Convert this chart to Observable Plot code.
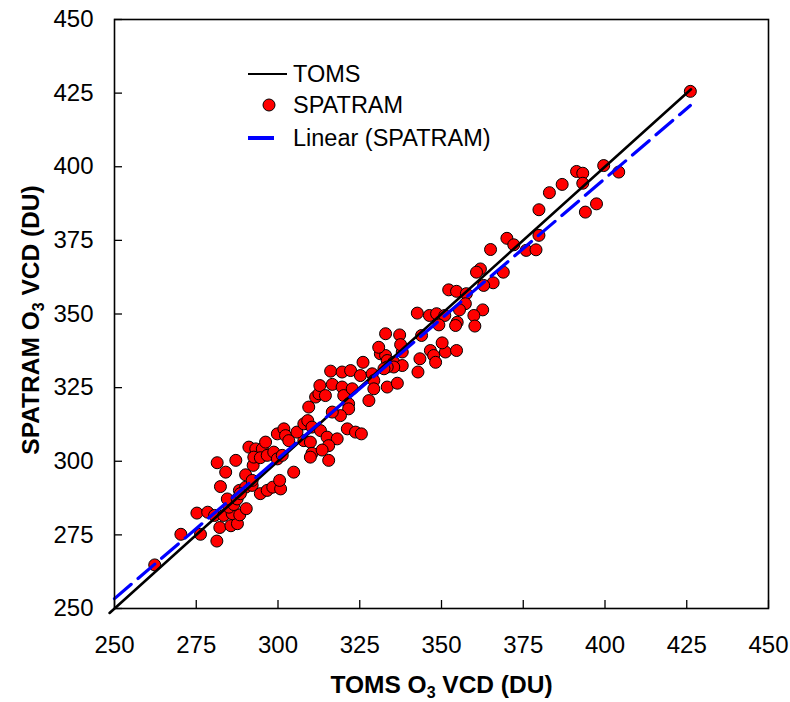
<!DOCTYPE html>
<html>
<head>
<meta charset="utf-8">
<script src="https://cdn.jsdelivr.net/npm/d3@7"></script>
<script src="https://cdn.jsdelivr.net/npm/@observablehq/plot@0.6"></script>
<style>
  html, body { margin: 0; padding: 0; background: #fff; }
  #wrap { position: relative; width: 790px; height: 702px; font-family: "Liberation Sans", Arial, sans-serif; }
  #legend { position: absolute; left: 240px; top: 55px; }
</style>
</head>
<body>
<div id="wrap"></div>
<script>
// ---- Data ----
const toms = [
  262.3,270.3,276.3,281.3,275.2,278.5,280.6,282.2,285.6,287.6,
  283.4,286.0,288.3,290.3,285.0,286.5,284.5,287.5,282.4,281.4,
  284.0,287.1,288.2,290.1,288.5,292.1,294.6,296.7,298.4,300.8,
  300.5,290.1,292.1,292.4,291.1,293.2,295.2,296.2,292.6,294.6,
  296.7,298.7,299.8,301.3,299.8,301.8,302.3,303.3,304.8,
  307.9,309.9,305.8,
  307.9,309.1,309.4,310.4,310.4,309.9,313.0,315.0,318.1,321.2,
  323.7,325.5,315.5,313.5,315.5,311.5,312.5,312.8,314.5,316.6,
  316.1,319.6,322.2,326.0,325.2,328.8,329.3,329.3,327.8,319.6,
  320.1,322.7,321.6,321.6,319.1,316.6,333.4,336.5,342.8,
  338.0,331.3,332.9,333.4,335.4,338.0,335.4,333.4,332.4,343.4,
  346.6,347.6,348.2,351.2,354.6,330.8,
  399.6,404.2,391.3,393.2,393.2,386.9,383.0,397.4,394.0,379.8,
  379.8,370.0,372.1,375.9,378.9,365.0,361.9,360.7,368.9,365.8,
  362.9,352.2,354.6,357.6,357.3,355.5,362.6,359.9,360.2,354.8,
  354.3,342.6,346.3,348.5,351.0,349.2,343.9,332.9,337.2,337.5,
  350.2,
  426.1
];
const spatram = [
  264.8,275.2,275.2,272.9,282.4,282.7,281.6,277.5,278.1,278.8,
  281.6,282.2,281.8,283.9,284.4,285.3,287.2,287.2,291.4,299.5,
  296.3,300.3,290.1,291.2,289.0,291.8,289.0,290.1,291.2,290.6,
  293.5,295.4,293.5,298.6,304.8,304.2,304.2,306.5,301.4,301.2,
  302.0,303.1,300.8,302.0,309.3,311.0,308.7,307.0,296.3,
  307.0,306.5,309.9,
  312.7,313.8,318.4,311.6,302.7,301.4,310.4,308.2,307.6,311.0,
  309.9,309.3,305.3,303.8,300.3,321.8,322.9,325.7,322.3,326.1,
  330.6,330.3,330.8,333.6,329.1,329.7,327.4,324.6,320.6,325.2,
  322.3,324.6,319.5,317.8,315.5,316.7,325.2,326.5,330.3,
  337.1,336.5,335.9,334.2,333.6,332.5,332.0,332.0,331.4,334.8,
  337.6,335.9,333.6,337.1,337.6,338.7,
  400.4,398.2,398.4,397.8,394.4,394.0,391.2,387.4,384.6,385.4,
  376.7,375.7,373.5,371.6,371.8,371.9,365.3,364.2,364.2,360.6,
  359.7,358.2,357.7,356.9,353.5,351.4,351.4,349.5,345.9,347.2,
  346.1,350.3,349.5,350.1,349.5,346.3,342.7,343.3,342.9,339.6,
  340.2,
  425.6
];
// 1:1 TOMS reference line extent and Excel linear trendline
const tomsLineX = [248.5, 426.3];
const fitSlope = 0.951;
const fitIntercept = 15.6;
const fitRangeX = [250, 426.1];
const axisTicks = [250, 275, 300, 325, 350, 375, 400, 425, 450];
const xTitle = "TOMS O3 VCD (DU)";
const yTitle = "SPATRAM O3 VCD (DU)";
const legendLabels = ["TOMS", "SPATRAM", "Linear (SPATRAM)"];

// ---- Derived tables ----
const points = toms.map((t, i) => ({toms: t, spatram: spatram[i]}));
const oneToOne = tomsLineX.map(v => ({x: v, y: v}));
const fitLine = fitRangeX.map(v => ({x: v, y: fitSlope * v + fitIntercept}));

const chart = Plot.plot({
  width: 790,
  height: 702,
  marginLeft: 114,
  marginRight: 22,
  marginTop: 19,
  marginBottom: 94,
  style: {fontFamily: "'Liberation Sans', Arial, sans-serif", fontSize: "24px", color: "#000", background: "#fff"},
  x: {domain: [250, 450], label: null},
  y: {domain: [250, 450], label: null},
  marks: [
    Plot.axisX({ticks: axisTicks, tickSize: -8, tickPadding: 35, label: null, stroke: "#000", strokeWidth: 1.3}),
    Plot.axisY({ticks: axisTicks, tickSize: -8, tickPadding: 29, label: null, stroke: "#000", strokeWidth: 1.3}),
    Plot.dot(points, {x: "toms", y: "spatram", r: 6, fill: "#ff0000", stroke: "#000", strokeWidth: 1}),
    Plot.line(oneToOne, {x: "x", y: "y", stroke: "#000", strokeWidth: 2.6, clip: false}),
    Plot.line(fitLine, {x: "x", y: "y", stroke: "#0000ff", strokeWidth: 3.2, strokeDasharray: "22 9"}),
    Plot.frame({stroke: "#000", strokeWidth: 1.6}),
    Plot.text([xTitle], {text: d => d, frameAnchor: "bottom", textAnchor: "middle", lineAnchor: "middle", dy: 77, fontSize: 24.5, fontWeight: "bold", fill: "#000"}),
    Plot.text([yTitle], {text: d => d, frameAnchor: "left", textAnchor: "middle", lineAnchor: "middle", dx: -83, dy: 6, rotate: -90, fontSize: 24.5, fontWeight: "bold", fill: "#000"})
  ]
});

// subscript the "3" in O3 of the axis titles
d3.select(chart).selectAll("text").each(function() {
  const el = this;
  if (el.childElementCount === 0 && /O3 VCD/.test(el.textContent)) {
    const parts = el.textContent.split("O3");
    el.textContent = "";
    const ns = "http://www.w3.org/2000/svg";
    const t1 = document.createElementNS(ns, "tspan"); t1.textContent = parts[0] + "O";
    const t2 = document.createElementNS(ns, "tspan"); t2.textContent = "3";
    t2.setAttribute("dy", "5"); t2.setAttribute("font-size", "16");
    const t3 = document.createElementNS(ns, "tspan"); t3.textContent = parts[1];
    t3.setAttribute("dy", "-5");
    el.append(t1, t2, t3);
  }
});

const wrap = document.getElementById("wrap");
wrap.appendChild(chart);

// legend (inside the plot area, top-left)
const lg = d3.select(wrap).append("svg").attr("id", "legend").attr("width", 320).attr("height", 100)
  .style("font-family", "'Liberation Sans', Arial, sans-serif").style("font-size", "23.5px");
const rowsY = [19, 50, 83];
lg.append("line").attr("x1", 8).attr("x2", 47).attr("y1", rowsY[0]).attr("y2", rowsY[0]).attr("stroke", "#000").attr("stroke-width", 2);
lg.append("circle").attr("cx", 29).attr("cy", rowsY[1]).attr("r", 6).attr("fill", "#ff0000").attr("stroke", "#000").attr("stroke-width", 1);
lg.append("line").attr("x1", 8).attr("x2", 34).attr("y1", rowsY[2]).attr("y2", rowsY[2]).attr("stroke", "#0000ff").attr("stroke-width", 4);
legendLabels.forEach((s, i) => {
  lg.append("text").attr("x", 53).attr("y", rowsY[i]).attr("dy", "0.36em").attr("fill", "#000").text(s);
});
</script>
</body>
</html>
